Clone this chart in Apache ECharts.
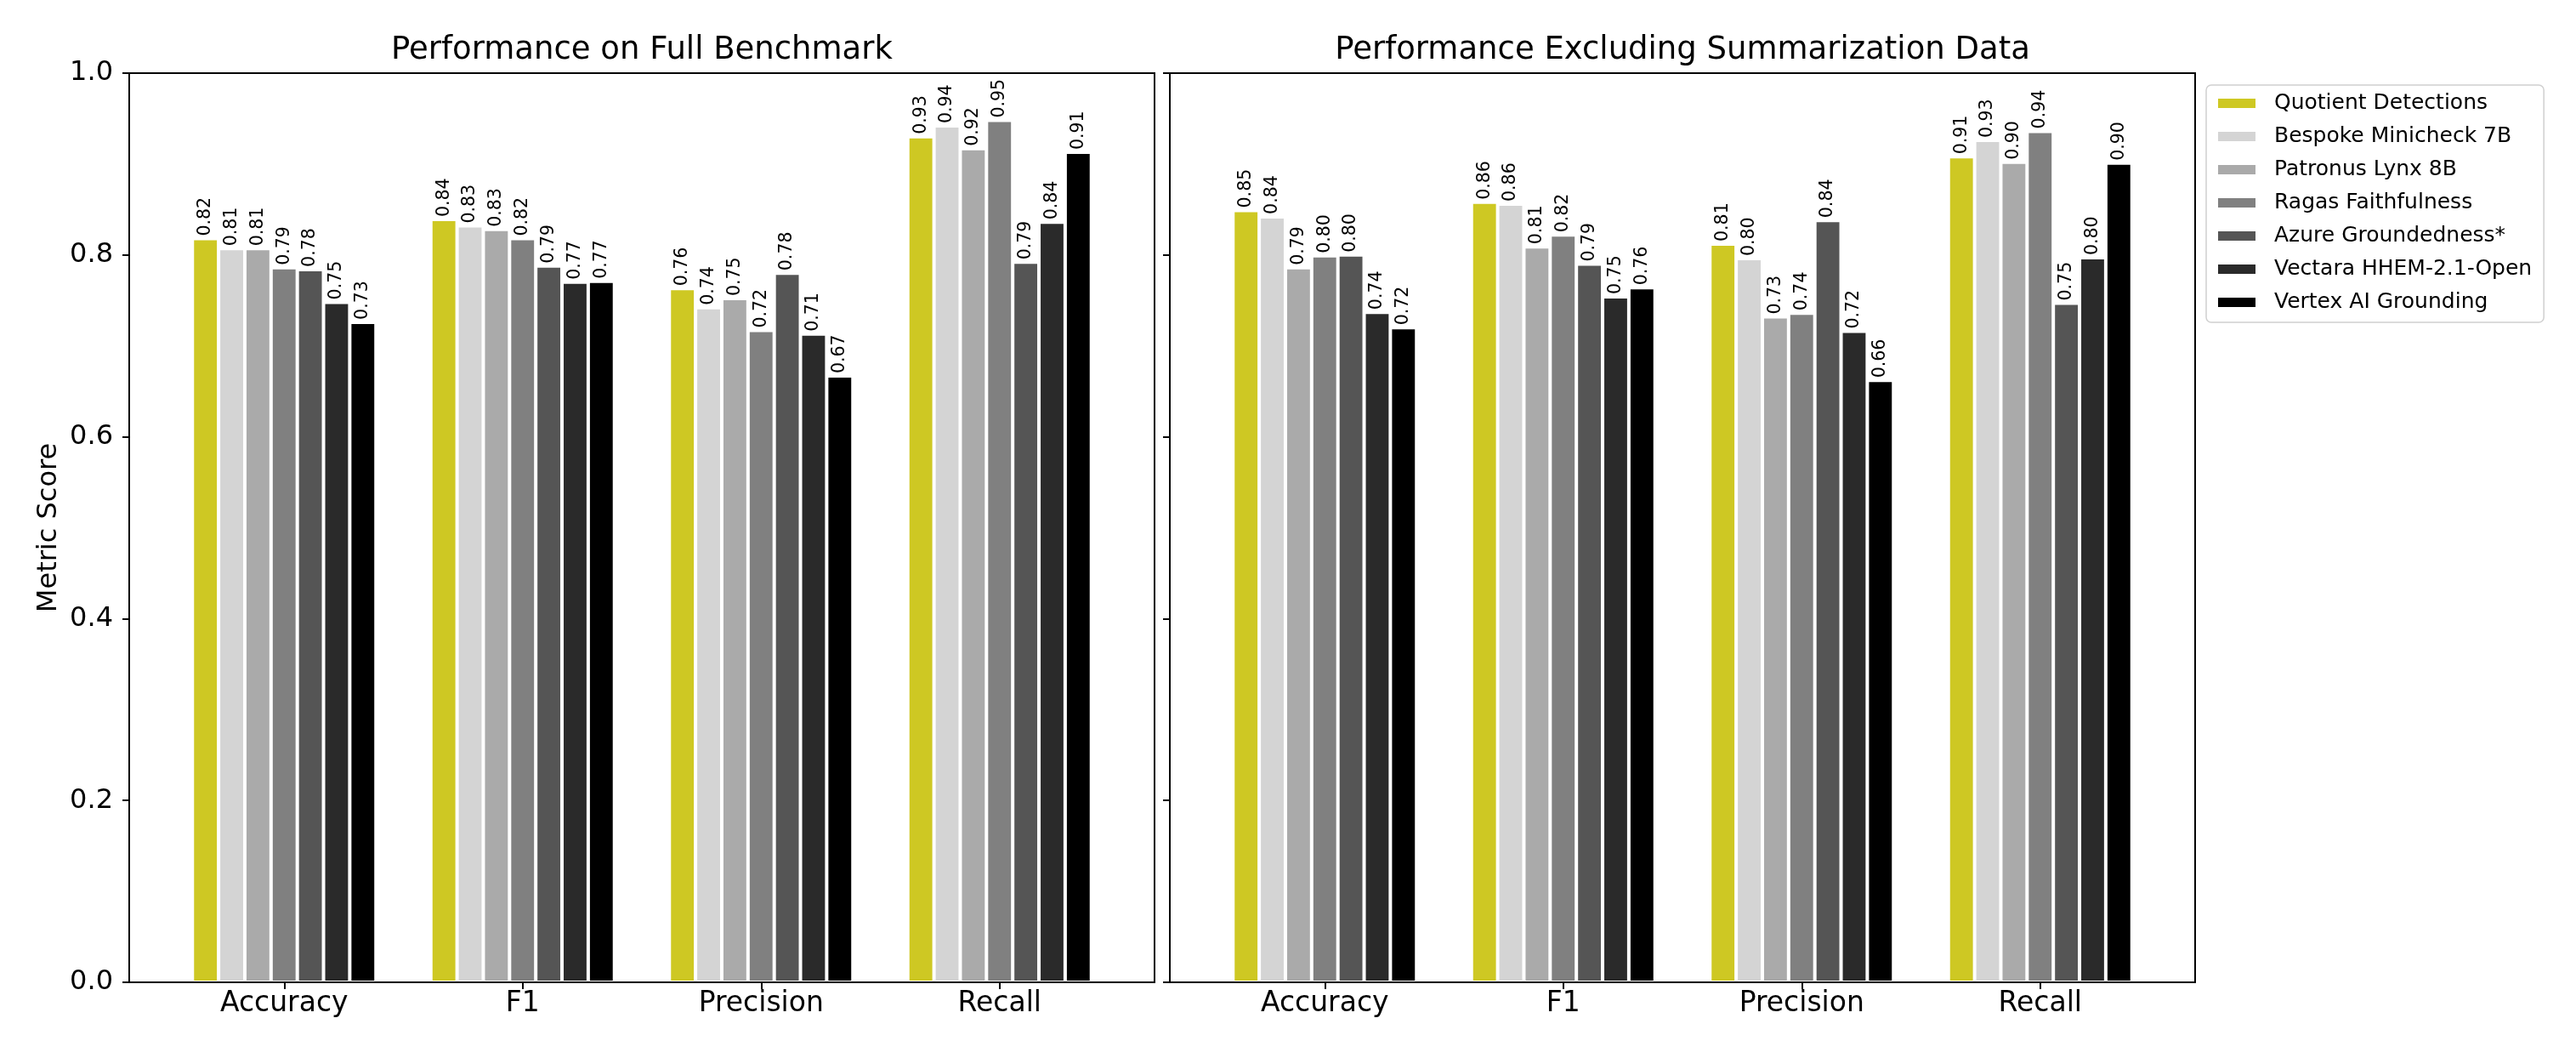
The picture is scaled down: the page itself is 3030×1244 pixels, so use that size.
<!DOCTYPE html>
<html>
<head>
<meta charset="utf-8">
<script src="https://cdn.jsdelivr.net/npm/echarts@6/dist/echarts.min.js"></script>
<style>
html,body{margin:0;padding:0;background:#fff;}
#chart{width:3030px;height:1244px;}
</style>
</head>
<body>
<div id="chart"></div>
<script>
// ---- data ----
const categories = ['Accuracy', 'F1', 'Precision', 'Recall'];
const models = ['Quotient Detections', 'Bespoke Minicheck 7B', 'Patronus Lynx 8B',
  'Ragas Faithfulness', 'Azure Groundedness*', 'Vectara HHEM-2.1-Open', 'Vertex AI Grounding'];
const panelTitles = ['Performance on Full Benchmark', 'Performance Excluding Summarization Data'];
const yTicks = [0, 0.2, 0.4, 0.6, 0.8, 1.0];
// scores per model: [Accuracy, F1, Precision, Recall]
const fullBenchmark = [
  [0.818, 0.839, 0.763, 0.930],
  [0.807, 0.832, 0.742, 0.942],
  [0.807, 0.828, 0.752, 0.917],
  [0.786, 0.818, 0.717, 0.948],
  [0.784, 0.788, 0.780, 0.792],
  [0.748, 0.770, 0.713, 0.836],
  [0.726, 0.771, 0.667, 0.913]
];
const excludingSummarization = [
  [0.849, 0.858, 0.812, 0.908],
  [0.842, 0.856, 0.796, 0.926],
  [0.786, 0.809, 0.732, 0.902],
  [0.799, 0.822, 0.736, 0.936],
  [0.800, 0.790, 0.838, 0.747],
  [0.737, 0.754, 0.716, 0.797],
  [0.720, 0.764, 0.662, 0.901]
];
const colors = ['#cec823', '#d4d4d4', '#aaaaaa', '#808080', '#555555', '#2a2a2a', '#000000'];

// ---- chart ----
const FONT = 'DejaVu Sans';
const chart = echarts.init(document.getElementById('chart'), null, {renderer: 'canvas'});

function outerY(showLabels) {
  return {
    type: 'value', min: yTicks[0], max: yTicks[yTicks.length - 1], interval: 0.2,
    axisLine: {show: false},
    axisTick: {show: true, length: 8, lineStyle: {color: '#000', width: 2}},
    axisLabel: {show: showLabels, fontSize: 32, color: '#000', fontFamily: FONT, margin: 19,
      formatter: v => v.toFixed(1)},
    splitLine: {show: false},
    name: showLabels ? 'Metric Score' : '',
    nameLocation: 'middle', nameGap: 78,
    nameTextStyle: {fontSize: 32, color: '#000', fontFamily: FONT}
  };
}
function innerY() {
  return {type: 'value', min: 0, max: 1, show: false, splitLine: {show: false}};
}
function outerX() {
  return {type: 'value', min: 0, max: 1, show: false, splitLine: {show: false}};
}
function innerX() {
  return {
    type: 'category', data: categories,
    axisLine: {show: false},
    axisTick: {show: true, alignWithLabel: true, length: 8, lineStyle: {color: '#000', width: 2}},
    axisLabel: {fontSize: 33, color: '#000', fontFamily: FONT, margin: 9},
    splitLine: {show: false}
  };
}

const series = [];
[fullBenchmark, excludingSummarization].forEach((panel, p) => {
  panel.forEach((vals, m) => {
    series.push({
      type: 'bar', name: models[m],
      xAxisIndex: p * 2 + 1, yAxisIndex: p * 2 + 1,
      data: vals,
      barWidth: '11%', barGap: '0%',
      itemStyle: {color: colors[m], borderColor: '#ffffff', borderWidth: 2},
      label: {
        show: true, position: 'top', rotate: 90, align: 'left', verticalAlign: 'middle',
        distance: 3, fontSize: 20.5, color: '#000', fontFamily: FONT,
        formatter: d => d.value.toFixed(2)
      },
      emphasis: {disabled: true},
      animation: false
    });
  });
});

const option = {
  backgroundColor: '#ffffff',
  animation: false,
  textStyle: {fontFamily: FONT},
  title: [
    {text: panelTitles[0], left: 755, top: 41, textAlign: 'center', padding: 0,
      textStyle: {fontSize: 37, fontWeight: 'normal', color: '#000', fontFamily: FONT}},
    {text: panelTitles[1], left: 1979, top: 41, textAlign: 'center', padding: 0,
      textStyle: {fontSize: 37, fontWeight: 'normal', color: '#000', fontFamily: FONT}}
  ],
  legend: {
    data: models, orient: 'vertical', left: 2595, top: 100,
    padding: [9, 14, 11, 12],
    itemWidth: 46, itemHeight: 13, itemGap: 14,
    icon: 'rect',
    backgroundColor: 'rgba(255,255,255,0.8)', borderColor: '#d0d0d0', borderWidth: 1.5, borderRadius: 6,
    textStyle: {fontSize: 25, color: '#000', fontFamily: FONT, padding: [0, 0, 0, 16]}
  },
  grid: [
    {left: 152, right: 1672, top: 86, bottom: 89, show: true, z: 10, backgroundColor: 'transparent', borderColor: '#000', borderWidth: 2},
    {left: 194, right: 1714, top: 86, bottom: 89},
    {left: 1376, right: 448, top: 86, bottom: 89, show: true, z: 10, backgroundColor: 'transparent', borderColor: '#000', borderWidth: 2},
    {left: 1418, right: 490, top: 86, bottom: 89}
  ],
  xAxis: [
    Object.assign(outerX(), {gridIndex: 0}),
    Object.assign(innerX(), {gridIndex: 1}),
    Object.assign(outerX(), {gridIndex: 2}),
    Object.assign(innerX(), {gridIndex: 3})
  ],
  yAxis: [
    Object.assign(outerY(true), {gridIndex: 0}),
    Object.assign(innerY(), {gridIndex: 1}),
    Object.assign(outerY(false), {gridIndex: 2}),
    Object.assign(innerY(), {gridIndex: 3})
  ],
  series: series
};
chart.setOption(option);
</script>
</body>
</html>
